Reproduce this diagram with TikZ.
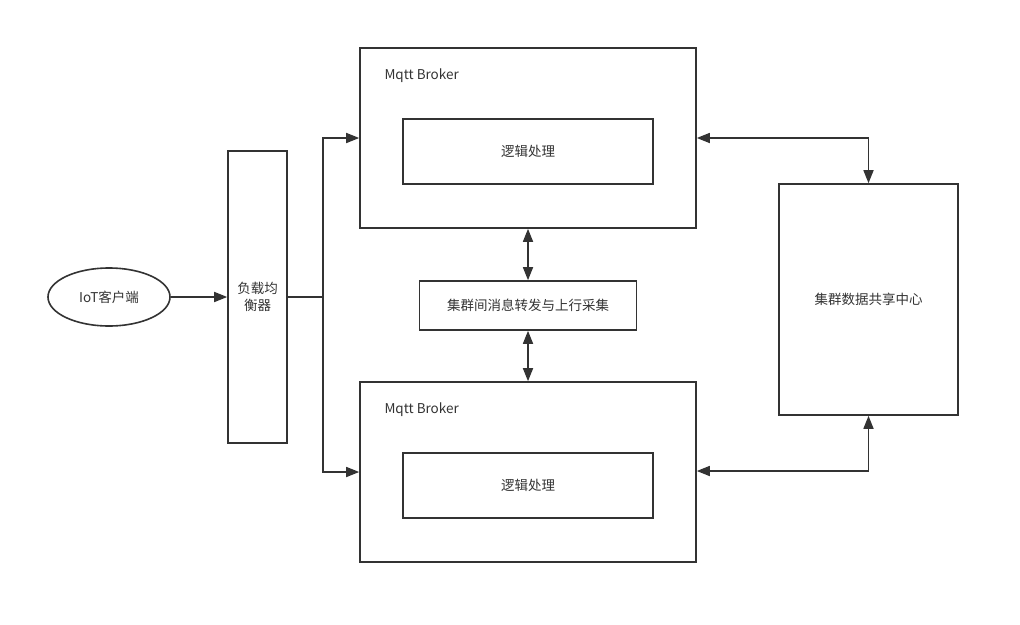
\documentclass[tikz,border=0pt]{standalone}
\usepackage{fontspec}
\setmainfont{Noto Sans CJK SC}
\usetikzlibrary{arrows.meta,shapes.geometric}
\definecolor{ln}{HTML}{333333}
\begin{document}
\begin{tikzpicture}[x=1pt,y=-1pt,
  every node/.style={font=\fontsize{13.5}{17}\selectfont, text=ln},
  box/.style={draw=ln, line width=1.6pt, inner sep=0pt},
  tip/.tip={Triangle[length=13pt,width=10pt]},
  conn/.style={draw=ln, line width=1.6pt, -tip},
  bconn/.style={draw=ln, line width=1.6pt, tip-tip}]
\useasboundingbox (0,0) rectangle (1020,624);
% client
\node[box, ellipse, minimum width=122pt, minimum height=58pt] (iot) at (109,297) {IoT客户端};
% load balancer
\node[box, minimum width=59pt, minimum height=292pt, align=center] (lb) at (257.5,297) {负载均\\衡器};
% brokers
\node[box, minimum width=336pt, minimum height=180pt] (b1) at (528,138) {};
\node[anchor=west] (b1l) at (381,76) {Mqtt Broker};
\node[box, minimum width=250pt, minimum height=65pt] (p1) at (528,151.5) {逻辑处理};
\node[box, minimum width=336pt, minimum height=180pt] (b2) at (528,472) {};
\node[anchor=west] (b2l) at (381,410) {Mqtt Broker};
\node[box, minimum width=250pt, minimum height=65pt] (p2) at (528,485.5) {逻辑处理};
% middle
\node[box, minimum width=217pt, minimum height=49pt] (mid) at (528,305.5) {集群间消息转发与上行采集};
% right
\node[box, minimum width=179pt, minimum height=231pt] (ctr) at (868.5,299.5) {集群数据共享中心};
% connectors
\coordinate (j) at (323,297);
\draw[conn] (iot.east) -- (lb.west);
\draw[draw=ln, line width=1.6pt] (lb.east |- j) -- (j);
\draw[conn] (j) |- (b1.west);
\draw[conn] (j) |- (b2.west);
\draw[bconn] (b1.south) -- (mid.north);
\draw[bconn] (mid.south) -- (b2.north);
\draw[bconn] (b1.east) -| (ctr.north);
\draw[bconn] (b2.east |- 0,471) -| (ctr.south);
\end{tikzpicture}
\end{document}
